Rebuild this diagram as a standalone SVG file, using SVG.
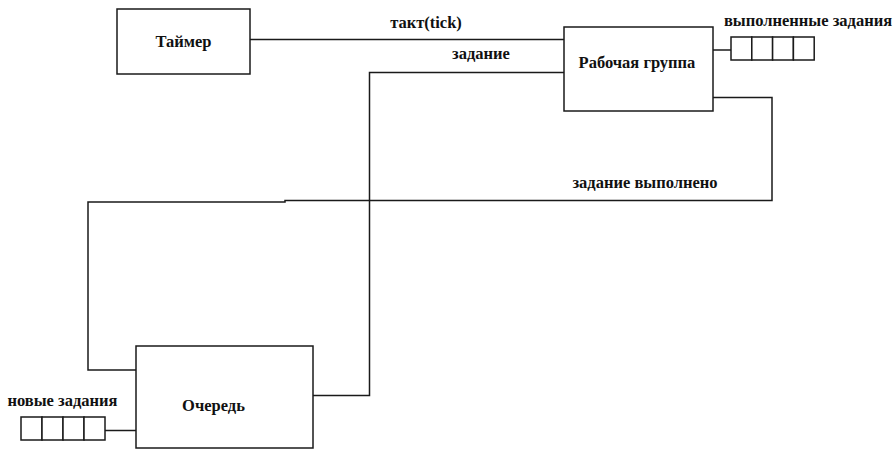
<svg xmlns="http://www.w3.org/2000/svg" width="893" height="449" viewBox="0 0 893 449">
<style>
.box{fill:#fff;stroke:#1a1a1a;stroke-width:1.5}
.cell{fill:#fff;stroke:#1a1a1a;stroke-width:1.5}
.ln{fill:none;stroke:#1a1a1a;stroke-width:1.5}
text{font-family:"Liberation Serif","Times New Roman",serif;font-weight:bold;font-size:16.5px;fill:#111}
.c{text-anchor:middle}
</style>
<rect width="893" height="449" fill="#fff"/>
<g id="connectors">
<polyline class="ln" points="250,39.5 566,39.5"/>
<polyline class="ln" points="564,72.5 369.5,72.5 369.5,395.5 313,395.5"/>
<polyline class="ln" points="713,97.5 772,97.5 772,200.5 285,200.5 285,202 88,202 88,370 136,370"/>
<polyline class="ln" points="713,50 731,50"/>
<polyline class="ln" points="105,430.5 136,430.5"/>
<text x="426" y="28" class="c">такт(tick)</text>
<text x="481" y="59" class="c">задание</text>
<text x="645" y="188" class="c">задание выполнено</text>
</g>
<g id="timer">
<rect class="box" x="117" y="9" width="133" height="65"/>
<text x="183.5" y="47" class="c">Таймер</text>
</g>
<g id="workgroup">
<rect class="box" x="564" y="27" width="149" height="84"/>
<text x="637" y="68" class="c">Рабочая группа</text>
</g>
<g id="queue">
<rect class="box" x="136" y="346" width="177" height="102"/>
<text x="213.5" y="411" class="c">Очередь</text>
</g>
<g id="done-tasks">
<rect class="cell" x="731" y="37" width="20.8" height="23"/>
<rect class="cell" x="751.8" y="37" width="20.8" height="23"/>
<rect class="cell" x="772.6" y="37" width="20.8" height="23"/>
<rect class="cell" x="793.4" y="37" width="20.8" height="23"/>
<text x="808" y="26" class="c">выполненные задания</text>
</g>
<g id="new-tasks">
<rect class="cell" x="21" y="417" width="21" height="23"/>
<rect class="cell" x="42" y="417" width="21" height="23"/>
<rect class="cell" x="63" y="417" width="21" height="23"/>
<rect class="cell" x="84" y="417" width="21" height="23"/>
<text x="62.5" y="406" class="c">новые задания</text>
</g>
</svg>
